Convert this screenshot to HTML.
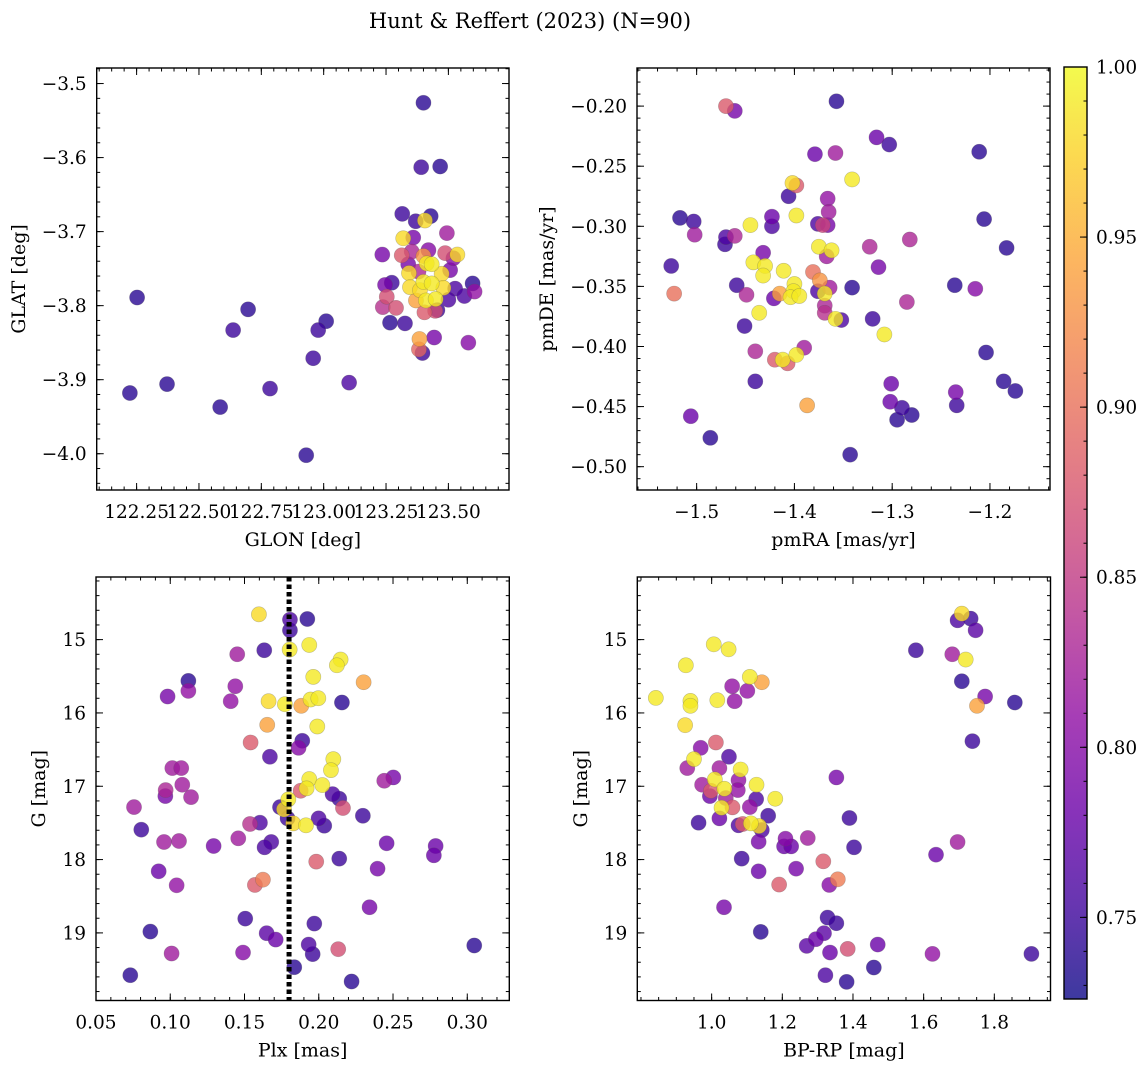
<!DOCTYPE html>
<html><head><meta charset="utf-8"><style>
body{margin:0;background:#fff;}
svg{display:block;font-family:"DejaVu Serif","Liberation Serif",serif;}
</style></head><body>
<svg id="fig" width="1148" height="1067" viewBox="0 0 1148 1067" xmlns="http://www.w3.org/2000/svg">
<text x="530" y="28" font-size="21" text-anchor="middle">Hunt &amp; Reffert (2023) (N=90)</text>
</svg>
<script>
// ---- Panel 1: GLON / GLAT ----
const p1Lon=[123.40,123.391,123.467,123.315,123.369,123.429,123.406,123.319,123.359,123.494,123.235,123.313,123.353,123.420,123.487,123.536,123.520,123.400,123.413,123.433,123.339,123.342,123.473,123.380,123.507,123.273,123.246,123.346,123.400,123.433,123.386,123.480,123.527,123.597,123.605,123.564,123.253,123.237,123.290,123.370,123.410,123.449,123.500,123.404,123.447,123.456,123.266,123.326,123.384,123.443,123.580,123.382,123.396,122.252,122.223,122.372,122.585,122.637,122.697,122.785,122.930,122.958,122.978,123.010,123.102];
const p1Lat=[-3.526,-3.613,-3.612,-3.676,-3.686,-3.679,-3.685,-3.709,-3.708,-3.702,-3.731,-3.732,-3.727,-3.725,-3.729,-3.731,-3.736,-3.733,-3.743,-3.744,-3.744,-3.756,-3.757,-3.754,-3.752,-3.769,-3.772,-3.775,-3.768,-3.770,-3.779,-3.776,-3.777,-3.770,-3.781,-3.787,-3.788,-3.802,-3.803,-3.793,-3.793,-3.791,-3.792,-3.809,-3.807,-3.806,-3.823,-3.824,-3.845,-3.843,-3.850,-3.859,-3.864,-3.789,-3.918,-3.906,-3.937,-3.833,-3.805,-3.912,-4.002,-3.871,-3.833,-3.821,-3.904];
const p1Prob=[0.74,0.75,0.74,0.75,0.75,0.74,0.98,0.98,0.79,0.82,0.79,0.88,0.83,0.80,0.87,0.98,0.80,0.93,0.99,0.99,0.79,0.98,0.98,0.83,0.79,0.75,0.79,0.98,0.99,0.99,0.98,0.98,0.76,0.74,0.81,0.76,0.87,0.84,0.87,0.94,0.99,0.99,0.76,0.88,0.87,0.75,0.74,0.75,0.94,0.79,0.80,0.89,0.75,0.74,0.74,0.74,0.74,0.75,0.74,0.75,0.74,0.75,0.75,0.74,0.76];
const p1XTicks=[122.25,122.50,122.75,123.00,123.25,123.50];
const p1YTicks=[-3.5,-3.6,-3.7,-3.8,-3.9,-4.0];
// ---- Panel 2: pmRA / pmDE ----
const p2RA=[-1.470,-1.461,-1.357,-1.316,-1.303,-1.379,-1.358,-1.211,-1.341,-1.402,-1.398,-1.406,-1.366,-1.398,-1.365,-1.517,-1.503,-1.423,-1.423,-1.445,-1.376,-1.371,-1.366,-1.502,-1.470,-1.461,-1.471,-1.282,-1.206,-1.183,-1.375,-1.362,-1.367,-1.323,-1.432,-1.526,-1.442,-1.430,-1.432,-1.411,-1.314,-1.381,-1.374,-1.400,-1.459,-1.341,-1.236,-1.215,-1.523,-1.449,-1.415,-1.401,-1.404,-1.395,-1.376,-1.364,-1.369,-1.421,-1.285,-1.369,-1.369,-1.352,-1.358,-1.436,-1.451,-1.320,-1.308,-1.440,-1.390,-1.420,-1.407,-1.412,-1.398,-1.204,-1.440,-1.301,-1.186,-1.174,-1.235,-1.234,-1.387,-1.506,-1.302,-1.290,-1.280,-1.295,-1.486,-1.343];
const p2DE=[-0.200,-0.204,-0.196,-0.226,-0.232,-0.240,-0.239,-0.238,-0.261,-0.264,-0.266,-0.275,-0.277,-0.291,-0.288,-0.293,-0.296,-0.292,-0.300,-0.299,-0.298,-0.299,-0.299,-0.307,-0.309,-0.308,-0.315,-0.311,-0.294,-0.318,-0.317,-0.320,-0.325,-0.317,-0.322,-0.333,-0.330,-0.333,-0.341,-0.337,-0.334,-0.338,-0.345,-0.348,-0.349,-0.351,-0.349,-0.352,-0.356,-0.357,-0.356,-0.354,-0.359,-0.358,-0.354,-0.351,-0.356,-0.360,-0.363,-0.366,-0.372,-0.378,-0.377,-0.372,-0.383,-0.377,-0.390,-0.404,-0.401,-0.411,-0.414,-0.411,-0.407,-0.405,-0.429,-0.431,-0.429,-0.437,-0.438,-0.449,-0.449,-0.458,-0.446,-0.451,-0.457,-0.461,-0.476,-0.490];
const p2Prob=[0.88,0.79,0.74,0.78,0.75,0.78,0.82,0.74,0.99,0.98,0.88,0.75,0.81,0.99,0.82,0.74,0.75,0.78,0.76,0.99,0.76,0.86,0.79,0.82,0.76,0.83,0.75,0.83,0.74,0.74,0.99,0.99,0.82,0.83,0.79,0.75,0.99,0.99,0.99,0.99,0.79,0.90,0.93,0.99,0.75,0.74,0.74,0.80,0.90,0.83,0.94,0.99,0.99,0.99,0.76,0.82,0.99,0.78,0.83,0.83,0.84,0.76,0.99,0.99,0.75,0.75,0.99,0.83,0.82,0.88,0.88,0.99,0.99,0.74,0.75,0.78,0.74,0.74,0.79,0.75,0.94,0.78,0.78,0.75,0.74,0.74,0.74,0.74];
const p2XTicks=[-1.5,-1.4,-1.3,-1.2];
const p2YTicks=[-0.20,-0.25,-0.30,-0.35,-0.40,-0.45,-0.50];
// ---- Panel 3: Plx / G ----
const p3Plx=[0.1597,0.1806,0.1923,0.1806,0.1936,0.1804,0.1633,0.1451,0.2147,0.2122,0.2302,0.1963,0.1122,0.1122,0.0982,0.1438,0.1407,0.1662,0.1772,0.1882,0.1945,0.1997,0.2156,0.1653,0.1990,0.1541,0.1889,0.1864,0.1671,0.2098,0.2082,0.1014,0.1074,0.1081,0.0969,0.0967,0.1140,0.0756,0.1936,0.2024,0.1918,0.1878,0.2441,0.2502,0.2093,0.2138,0.2163,0.1795,0.1739,0.1766,0.1790,0.1828,0.1914,0.1999,0.2037,0.2297,0.1604,0.1537,0.0805,0.0958,0.1059,0.1458,0.1292,0.1680,0.1635,0.2457,0.2787,0.2775,0.2138,0.1983,0.2396,0.0922,0.1043,0.1624,0.1570,0.2342,0.1505,0.1970,0.0866,0.1649,0.1710,0.1932,0.1959,0.3047,0.2131,0.1009,0.1490,0.1835,0.0731,0.2221];
const p3G=[14.655,14.728,14.719,14.873,15.073,15.136,15.145,15.200,15.272,15.350,15.581,15.508,15.563,15.699,15.776,15.636,15.840,15.840,15.881,15.903,15.817,15.799,15.858,16.162,16.185,16.403,16.380,16.476,16.598,16.630,16.780,16.752,16.752,16.979,17.052,17.134,17.148,17.284,16.902,16.984,17.029,17.061,16.925,16.880,17.107,17.170,17.297,17.179,17.284,17.316,17.438,17.506,17.533,17.438,17.538,17.402,17.497,17.515,17.592,17.760,17.747,17.710,17.815,17.760,17.833,17.778,17.815,17.942,17.987,18.028,18.124,18.160,18.351,18.274,18.346,18.650,18.805,18.873,18.982,19.004,19.091,19.159,19.290,19.172,19.222,19.281,19.268,19.468,19.577,19.663];
const p3Prob=[0.98,0.76,0.74,0.75,0.99,0.99,0.75,0.82,0.99,0.99,0.94,0.99,0.74,0.81,0.79,0.81,0.81,0.98,0.99,0.94,0.99,0.99,0.74,0.94,0.99,0.88,0.75,0.80,0.76,0.99,0.99,0.82,0.82,0.82,0.83,0.79,0.82,0.82,0.99,0.99,0.99,0.88,0.82,0.79,0.76,0.75,0.87,0.99,0.75,0.98,0.75,0.98,0.99,0.76,0.75,0.75,0.76,0.84,0.75,0.82,0.82,0.82,0.79,0.76,0.76,0.78,0.78,0.78,0.75,0.88,0.79,0.78,0.81,0.91,0.88,0.79,0.75,0.75,0.74,0.77,0.78,0.76,0.75,0.74,0.87,0.82,0.80,0.74,0.74,0.74];
const p3XTicks=[0.05,0.10,0.15,0.20,0.25,0.30];
const p3Cut=[0.18];
const gTicks=[15,16,17,18,19];
// ---- Panel 4: BP-RP / G ----
const p4BR=[1.708,1.696,1.733,1.747,1.006,1.048,1.578,1.681,1.719,0.927,1.108,1.142,1.708,1.058,1.101,0.842,1.016,1.065,0.940,0.940,1.774,1.858,1.751,0.925,1.738,1.012,0.969,1.049,0.950,0.931,1.022,1.082,1.353,0.973,1.009,1.076,1.127,0.998,1.036,1.074,0.995,1.040,1.126,1.180,1.059,1.108,1.028,1.160,0.963,1.022,1.076,1.088,1.111,1.134,1.142,1.390,1.133,1.209,1.205,1.225,1.272,1.403,1.696,1.635,1.085,1.316,1.133,1.239,1.191,1.333,1.357,1.035,1.328,1.353,1.139,1.318,1.295,1.269,1.335,1.385,1.470,1.625,1.905,1.459,1.322,1.382];
const p4G=[14.646,14.737,14.714,14.873,15.064,15.132,15.145,15.200,15.272,15.350,15.508,15.581,15.568,15.636,15.699,15.795,15.826,15.840,15.836,15.903,15.776,15.858,15.903,16.167,16.385,16.403,16.476,16.598,16.630,16.752,16.752,16.771,16.880,16.979,16.907,16.916,16.979,17.061,17.034,17.052,17.134,17.161,17.175,17.170,17.288,17.284,17.293,17.402,17.497,17.438,17.533,17.515,17.506,17.542,17.597,17.433,17.756,17.715,17.820,17.820,17.706,17.833,17.760,17.933,17.987,18.024,18.160,18.124,18.341,18.346,18.269,18.650,18.791,18.868,18.986,19.004,19.086,19.177,19.268,19.218,19.159,19.286,19.286,19.472,19.577,19.668];
const p4Prob=[0.98,0.76,0.75,0.77,0.99,0.99,0.75,0.82,0.99,0.99,0.99,0.94,0.74,0.81,0.81,0.99,0.99,0.81,0.99,0.99,0.79,0.74,0.94,0.98,0.75,0.88,0.80,0.76,0.99,0.82,0.82,0.99,0.79,0.82,0.99,0.81,0.99,0.88,0.99,0.81,0.78,0.82,0.76,0.99,0.88,0.81,0.99,0.75,0.75,0.78,0.76,0.88,0.99,0.98,0.76,0.75,0.79,0.80,0.78,0.78,0.82,0.75,0.82,0.78,0.75,0.88,0.78,0.79,0.88,0.80,0.91,0.79,0.75,0.75,0.74,0.77,0.78,0.77,0.78,0.87,0.78,0.81,0.75,0.74,0.76,0.74];
const p4XTicks=[1.0,1.2,1.4,1.6,1.8];
// ---- Colorbar ----
const cbTicks=[1.00,0.95,0.90,0.85,0.80,0.75];
const cbRange=[0.726,1.0];

const NS="http://www.w3.org/2000/svg";
const svg=document.getElementById('fig');
function mk(tag,attrs,parent){const e=document.createElementNS(NS,tag);for(const k in attrs)e.setAttribute(k,attrs[k]);(parent||svg).appendChild(e);return e;}
const plasmaStops=[[0,[13,8,135]],[0.1,[65,4,157]],[0.2,[106,0,168]],[0.3,[143,13,164]],[0.4,[177,42,144]],[0.5,[204,71,120]],[0.6,[225,100,98]],[0.7,[242,132,75]],[0.8,[252,166,54]],[0.9,[252,206,37]],[1,[240,249,33]]];
function plasma(t){t=Math.max(0,Math.min(1,t));for(let i=1;i<plasmaStops.length;i++){if(t<=plasmaStops[i][0]){const a=plasmaStops[i-1],b=plasmaStops[i];const f=(t-a[0])/(b[0]-a[0]);const c=a[1].map((v,j)=>Math.round(v+(b[1][j]-v)*f));return `rgb(${c[0]},${c[1]},${c[2]})`;}}return 'rgb(240,249,33)';}
function colorOf(p){return plasma((p-cbRange[0])/(cbRange[1]-cbRange[0]));}
function fmt(v,d){return (v<0?'\u2212':'')+Math.abs(v).toFixed(d);}

function panel(o){
  const g=mk('g',{});
  
  
  const sx=v=>o.x0+(v-o.xmin)/(o.xmax-o.xmin)*(o.x1-o.x0);
  const sy=o.yinv?(v=>o.y0+(v-o.ymin)/(o.ymax-o.ymin)*(o.y1-o.y0)):(v=>o.y1-(v-o.ymin)/(o.ymax-o.ymin)*(o.y1-o.y0));
  const idx=o.c.map((_,i)=>i).sort((a,b)=>o.c[a]-o.c[b]);
  const pg=mk('g',{},g);
  
  
  idx.forEach(i=>{
    const c=mk('circle',{cx:sx(o.xs[i]),cy:sy(o.ys[i]),r:7.6,fill:colorOf(o.c[i]),'fill-opacity':0.8,stroke:'#555','stroke-opacity':0.35,'stroke-width':0.6},pg);
    
    
  });
  if(o.vline){o.vline.forEach(v=>{const l=mk('line',{x1:sx(v),x2:sx(v),y1:o.y0,y2:o.y1,stroke:'#000','stroke-width':5,'stroke-dasharray':'4.5 3'},g);
    
    });}
  const tk=mk('g',{stroke:'#000','stroke-width':1},g);
  for(let v=o.xmin-((o.xmin%o.xminor)+o.xminor)%o.xminor;v<=o.xmax+1e-9;v+=o.xminor){if(v<o.xmin-1e-9)continue;const x=sx(v);mk('line',{x1:x,x2:x,y1:o.y1,y2:o.y1-3.5},tk);mk('line',{x1:x,x2:x,y1:o.y0,y2:o.y0+3.5},tk);}
  for(let v=Math.ceil(o.ymin/o.yminor-1e-6)*o.yminor;v<=o.ymax+1e-9;v+=o.yminor){const y=sy(v);mk('line',{x1:o.x0,x2:o.x0+3.5,y1:y,y2:y},tk);mk('line',{x1:o.x1,x2:o.x1-3.5,y1:y,y2:y},tk);}
  o.xt.forEach(v=>{const x=sx(v);mk('line',{x1:x,x2:x,y1:o.y1,y2:o.y1-7},tk);mk('line',{x1:x,x2:x,y1:o.y0,y2:o.y0+7},tk);
    const t=mk('text',{x:x,y:o.y1+28,'font-size':18.5,'text-anchor':'middle'},g);t.textContent=fmt(v,o.xd);
    });
  o.yt.forEach(v=>{const y=sy(v);mk('line',{x1:o.x0,x2:o.x0+7,y1:y,y2:y},tk);mk('line',{x1:o.x1,x2:o.x1-7,y1:y,y2:y},tk);
    const t=mk('text',{x:o.x0-10,y:y+6.5,'font-size':18.5,'text-anchor':'end'},g);t.textContent=fmt(v,o.yd);
    });
  const fr=mk('rect',{x:o.x0,y:o.y0,width:o.x1-o.x0,height:o.y1-o.y0,fill:'none',stroke:'#000','stroke-width':1.4},g);
  
  const xl=mk('text',{x:(o.x0+o.x1)/2,y:o.y1+56,'font-size':19,'text-anchor':'middle'},g);xl.textContent=o.xlabel;
  
  const yx=o.ylx,yy=(o.y0+o.y1)/2;
  const yl=mk('text',{x:yx,y:yy,'font-size':19,'text-anchor':'middle',transform:`rotate(-90 ${yx} ${yy})`},g);yl.textContent=o.ylabel;
  
}
panel({name:'glon-glat-panel',xs:p1Lon,ys:p1Lat,c:p1Prob,x0:96.7,x1:509,y0:68,y1:490,xmin:122.09,xmax:123.743,ymin:-4.049,ymax:-3.479,xt:p1XTicks,yt:p1YTicks,xd:2,yd:1,xminor:0.05,yminor:0.02,xlabel:'GLON [deg]',ylabel:'GLAT [deg]',ylx:25});
panel({name:'proper-motion-panel',xs:p2RA,ys:p2DE,c:p2Prob,x0:637,x1:1050,y0:68,y1:490,xmin:-1.561,xmax:-1.1386,ymin:-0.5194,ymax:-0.1683,xt:p2XTicks,yt:p2YTicks,xd:1,yd:2,xminor:0.02,yminor:0.01,xlabel:'pmRA [mas/yr]',ylabel:'pmDE [mas/yr]',ylx:553});
panel({name:'parallax-magnitude-panel',xs:p3Plx,ys:p3G,c:p3Prob,x0:96,x1:509.3,y0:577,y1:1000.5,xmin:0.05,xmax:0.3283,ymin:14.146,ymax:19.922,yinv:true,xt:p3XTicks,yt:gTicks,xd:2,yd:0,xminor:0.01,yminor:0.2,xlabel:'Plx [mas]',ylabel:'G [mag]',ylx:45,vline:p3Cut});
panel({name:'color-magnitude-panel',xs:p4BR,ys:p4G,c:p4Prob,x0:637.3,x1:1050.5,y0:577,y1:1000.5,xmin:0.7896,xmax:1.959,ymin:14.146,ymax:19.922,yinv:true,xt:p4XTicks,yt:gTicks,xd:1,yd:0,xminor:0.05,yminor:0.2,xlabel:'BP-RP [mag]',ylabel:'G [mag]',ylx:587});

const cb=mk('g',{});


const defs=mk('defs',{},svg);
const lg=mk('linearGradient',{id:'cbg',x1:0,y1:1,x2:0,y2:0},defs);
for(let i=0;i<=20;i++){mk('stop',{offset:i/20,'stop-color':plasma(i/20),'stop-opacity':0.8},lg);}
const cbx0=1064,cbx1=1087,cby0=67,cby1=999;
mk('rect',{x:cbx0,y:cby0,width:cbx1-cbx0,height:cby1-cby0,fill:'url(#cbg)'},cb);
const cy=v=>cby1-(v-cbRange[0])/(cbRange[1]-cbRange[0])*(cby1-cby0);
for(let v=0.73;v<=1.0001;v+=0.01){mk('line',{x1:cbx1,x2:cbx1-3.5,y1:cy(v),y2:cy(v),stroke:'#000','stroke-width':1},cb);}
cbTicks.forEach(v=>{mk('line',{x1:cbx1,x2:cbx1-7,y1:cy(v),y2:cy(v),stroke:'#000','stroke-width':1},cb);
  const t=mk('text',{x:cbx1+9,y:cy(v)+6.5,'font-size':18.5},cb);t.textContent=v.toFixed(2);
  });
mk('rect',{x:cbx0,y:cby0,width:cbx1-cbx0,height:cby1-cby0,fill:'none',stroke:'#000','stroke-width':1.4},cb);
</script>
</body></html>
